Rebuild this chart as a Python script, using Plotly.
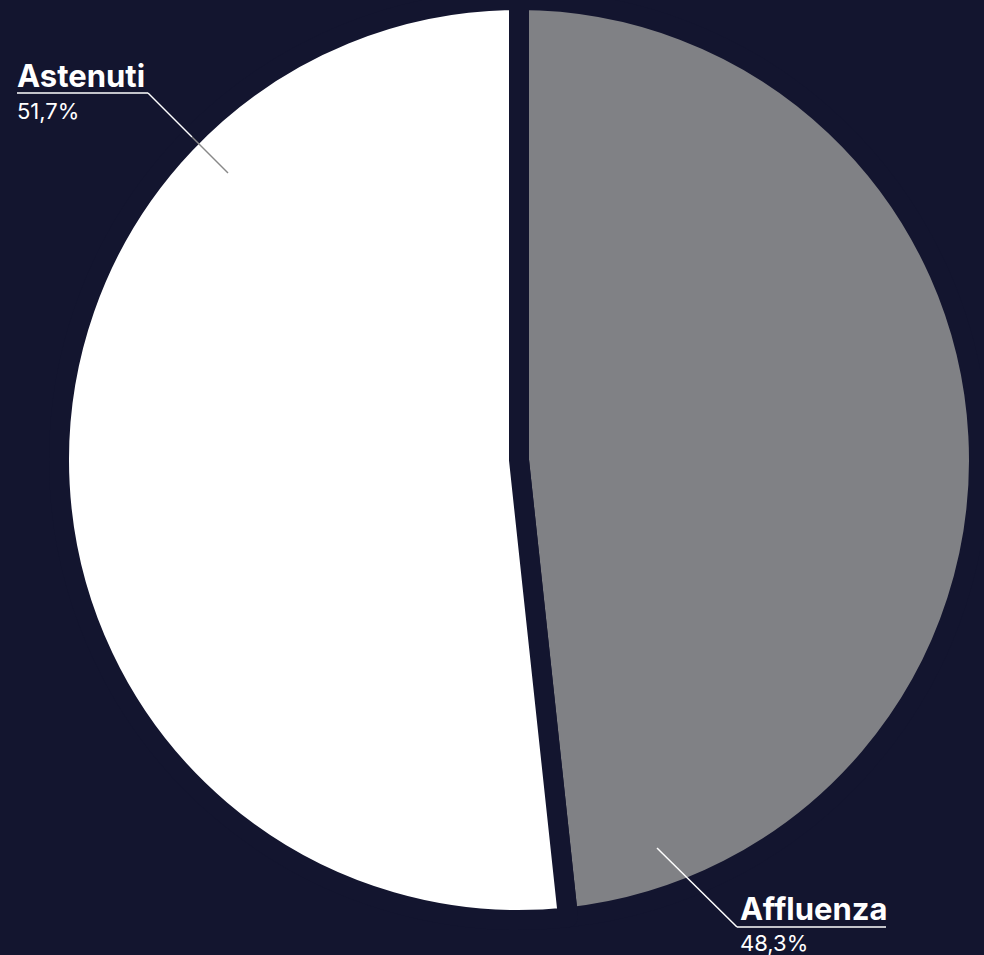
import plotly.graph_objects as go

labels = ["Affluenza", "Astenuti"]
values = [48.3, 51.7]
colors = ["#808185", "#ffffff"]

BG = "#13152f"
W, H = 984, 955

def px(x):
    return x / W

def py(y):
    return 1 - y / H

def fmt(v):
    return f"{v:.1f}".replace(".", ",") + "%"

fig = go.Figure()
fig.add_trace(go.Pie(
    labels=labels,
    values=values,
    sort=False,
    direction="clockwise",
    rotation=0,
    marker=dict(colors=colors, line=dict(color=BG, width=20)),
    textinfo="none",
    hoverinfo="label+percent",
    showlegend=False,
    domain=dict(x=[59 / W, 979 / W], y=[1 - 920 / H, 1]),
))

# label placements (layout): text left x, baseline of name, cap-top of value
label_pos = {
    "Astenuti": dict(tx=17, base=85, line=93, vtop=103),
    "Affluenza": dict(tx=740, base=918, line=927, vtop=935),
}

NAME_SIZE = 31
VAL_SIZE = 22
FONT = "Inter"

anns = []
for lab, val in zip(labels, values):
    p = label_pos[lab]
    anns.append(dict(
        x=px(p["tx"] - 2), y=py(p["base"] + 0.37 * NAME_SIZE), xref="paper", yref="paper",
        xanchor="left", yanchor="bottom", showarrow=False,
        text=f"<b>{lab}</b>",
        font=dict(family=FONT, size=NAME_SIZE, color="#ffffff"),
    ))
    anns.append(dict(
        x=px(p["tx"] - 2), y=py(p["vtop"] - 0.33 * VAL_SIZE), xref="paper", yref="paper",
        xanchor="left", yanchor="top", showarrow=False,
        text=fmt(val),
        font=dict(family=FONT, size=VAL_SIZE, color="#ffffff"),
    ))

def seg(x0, y0, x1, y1, color, width=1.5):
    return dict(type="line", xref="paper", yref="paper",
                x0=px(x0), y0=py(y0), x1=px(x1), y1=py(y1),
                line=dict(color=color, width=width), layer="above")

shapes = [
    # Astenuti
    seg(17, 93, 148, 93, "#ffffff"),
    seg(148, 93, 192, 137, "#ffffff"),
    seg(192, 137, 228, 173, "#888888"),
    # Affluenza
    seg(737, 927, 886, 927, "#ffffff"),
    seg(737, 927, 657, 848, "#ffffff"),
]

fig.update_layout(
    width=W, height=H,
    margin=dict(l=0, r=0, t=0, b=0),
    paper_bgcolor=BG, plot_bgcolor=BG,
    annotations=anns, shapes=shapes,
)

fig.write_html(
    "out.html",
    config={"displayModeBar": False},
    post_script="document.body.style.margin='0';document.body.style.background='%s';document.body.style.overflow='hidden';" % BG,
)
